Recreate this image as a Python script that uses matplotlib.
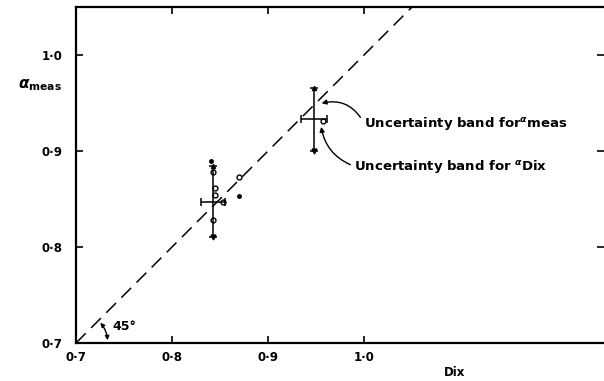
import numpy as np
import matplotlib
matplotlib.use("Agg")
import matplotlib.pyplot as plt

# ------------------------
# Data
# ------------------------
ticks = [0.7, 0.8, 0.9, 1.0]
tick_labels = ["0\u00b77", "0\u00b78", "0\u00b79", "1\u00b70"]

# individual measurements around the first cluster
open_x = [0.843, 0.870, 0.845, 0.845, 0.853, 0.843, 0.957]
open_y = [0.878, 0.873, 0.861, 0.854, 0.847, 0.828, 0.931]
dot_x = [0.841, 0.870]
dot_y = [0.890, 0.853]

# mean values with uncertainty bands
mean_x = [0.843, 0.948]
mean_y = [0.847, 0.933]
err_x = [0.0125, 0.0135]
err_y = [0.037, 0.033]

line_xy = [0.7, 1.05]

# ------------------------
# Figure
# ------------------------
plt.rcParams["font.family"] = ["DejaVu Sans"]
plt.rcParams["font.weight"] = "bold"

fig = plt.figure(figsize=(6.04, 3.81), dpi=100)
ax = fig.add_axes([76 / 604, 1 - 343 / 381, 528 / 604, 336 / 381])
ax.set_xlim(0.7, 1.25)
ax.set_ylim(0.7, 1.05)

for side in ["left", "bottom", "top"]:
    ax.spines[side].set_linewidth(1.6)
ax.spines["right"].set_visible(False)

ax.set_xticks(ticks)
ax.set_xticklabels(tick_labels)
ax.set_yticks(ticks)
ax.set_yticklabels(tick_labels)
ax.tick_params(direction="in", length=5, width=1.2, top=True, right=True,
               labelsize=8.5)
ax.tick_params(axis="y", pad=10)
ax.tick_params(axis="x", pad=6)

# 45 degree line
ax.plot(line_xy, line_xy, color="black", lw=1.1, dashes=(9, 5))

# measurements
ax.plot(open_x, open_y, "o", mfc="white", mec="black", ms=3.5, mew=1.0)
ax.plot(dot_x, dot_y, "o", color="black", ms=2.5)

# uncertainty bands
ax.errorbar(mean_x, mean_y, xerr=err_x, yerr=err_y, fmt="none",
            ecolor="black", elinewidth=1.1, capsize=3, capthick=1.1)
ax.plot(mean_x, np.array(mean_y) - np.array(err_y), "v", color="black", ms=3.5)
ax.plot(mean_x, np.array(mean_y) + np.array(err_y), "^", color="black", ms=3)

# annotations
ax.annotate(r"Uncertainty band for$^{\alpha}$meas", xy=(0.953, 0.949),
            xytext=(1.0, 0.929), fontsize=9.5, va="center",
            arrowprops=dict(arrowstyle="-|>", color="black", lw=1.0,
                            mutation_scale=7, relpos=(0, 0.5), shrinkA=1,
                            connectionstyle="arc3,rad=0.4"))
ax.annotate(r"Uncertainty band for $^{\alpha}$Dix", xy=(0.955, 0.928),
            xytext=(0.99, 0.884), fontsize=9.5, va="center",
            arrowprops=dict(arrowstyle="-|>", color="black", lw=1.0,
                            mutation_scale=7, relpos=(0, 0.5), shrinkA=1,
                            connectionstyle="arc3,rad=-0.3"))

# 45 degree angle marker
r = 0.033
ax.annotate("", xy=(0.7 + r, 0.7), xytext=(0.7 + r * np.cos(np.pi / 4), 0.7 + r * np.sin(np.pi / 4)),
            arrowprops=dict(arrowstyle="<|-|>", color="black", lw=1.0,
                            mutation_scale=6,
                            connectionstyle="arc3,rad=-0.2"))
ax.text(0.738, 0.717, "45\u00b0", fontsize=9, va="center", ha="left")

# axis labels
fig.text(18 / 604, 1 - 85 / 381, r"$\alpha_{\rm meas}$", fontsize=11, ha="left", va="center")
fig.text(455 / 604, 1 - 372 / 381, "Dix", fontsize=8.5, ha="center", va="center")

fig.savefig("out.png", dpi=100)
